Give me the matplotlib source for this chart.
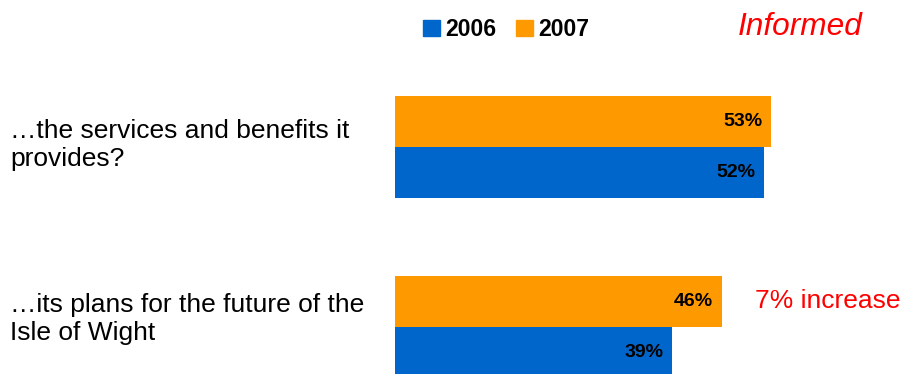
import matplotlib
matplotlib.use("Agg")
import matplotlib.pyplot as plt
from matplotlib.patches import Patch

plt.rcParams["font.family"] = ["Liberation Sans", "DejaVu Sans"]

# survey items, share informed (%)
items = ["\u2026the services and benefits it\nprovides?",
         "\u2026its plans for the future of the\nIsle of Wight"]
pct_2006 = [52, 39]
pct_2007 = [53, 46]
years = ["2006", "2007"]
note = "7% increase"

C06 = "#0066CC"
C07 = "#FF9900"
RED = "#FF0000"

W, H = 903, 374
fig = plt.figure(figsize=(W / 100, H / 100), dpi=100)
ax = fig.add_axes([395 / W, 0, 505 / W, 1])

bh = 0.286
pos = list(range(len(items)))
ax.barh([p - bh / 2 for p in pos], pct_2007, height=bh, color=C07)
ax.barh([p + bh / 2 for p in pos], pct_2006, height=bh, color=C06)
ax.set_xlim(0, 505 / 7.1)
ax.set_ylim(1.261, -0.8167)
ax.axis("off")

for p, v in zip(pos, pct_2007):
    ax.annotate(f"{v}%", (v, p - bh / 2), xytext=(-6, 0), textcoords="offset points",
                ha="right", va="center", fontsize=14, fontweight="bold")
for p, v in zip(pos, pct_2006):
    ax.annotate(f"{v}%", (v, p + bh / 2), xytext=(-6, 0), textcoords="offset points",
                ha="right", va="center", fontsize=14, fontweight="bold")

# change note beside the second item
ax.annotate(note, (pct_2007[1], 1 - bh / 2), xytext=(24, 0), textcoords="offset points",
            ha="left", va="center", fontsize=19, color=RED)

# item labels on the left (y = baseline of the last line)
for y_base, txt in zip([166, 340], items):
    fig.text(10 / W, 1 - y_base / H, txt, ha="left", va="baseline",
             fontsize=19, linespacing=1.2)

fig.text(738 / W, 1 - 27 / H, "Informed", ha="left", va="center",
         fontsize=22.8, style="italic", color=RED)

handles = [Patch(color=C06), Patch(color=C07)]
fig.legend(handles, years, loc="center left", bbox_to_anchor=(423 / W, 1 - 29.5 / H),
           ncol=2, frameon=False, borderpad=0, borderaxespad=0,
           handlelength=0.74, handleheight=0.74, handletextpad=0.22,
           columnspacing=0.87, prop={"size": 16.6, "weight": "bold"})

fig.savefig("out.png", dpi=100)
